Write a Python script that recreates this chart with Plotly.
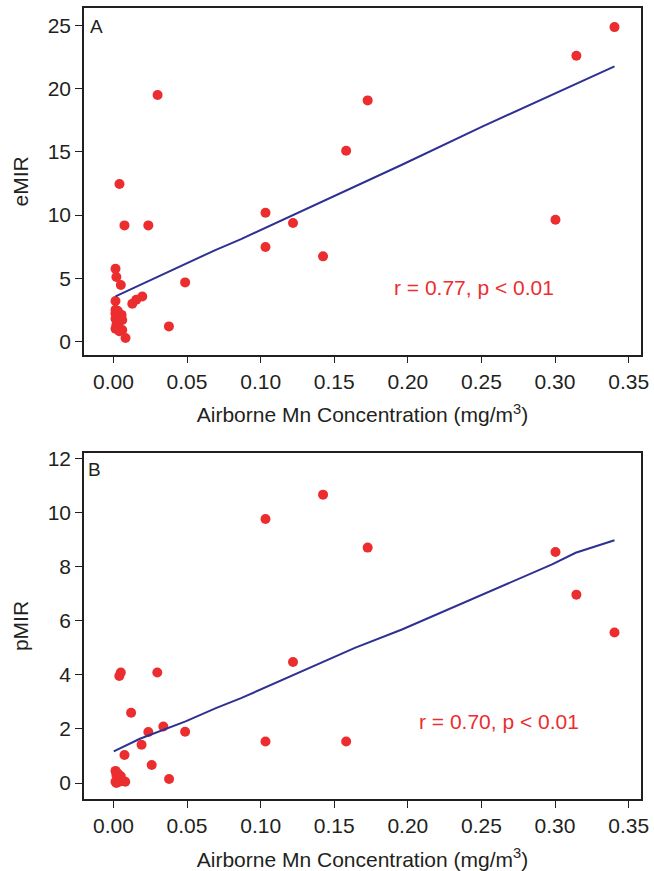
import plotly.graph_objects as go
from plotly.subplots import make_subplots

# ---- Panel A data (eMIR) ----
a_x = [0.3404, 0.3145, 0.3003, 0.1727, 0.1581, 0.1033, 0.1220, 0.1033, 0.1424,
       0.0300, 0.0041, 0.0075, 0.0237, 0.0487, 0.0377, 0.0196, 0.0155, 0.0128,
       0.0014, 0.0020, 0.0050, 0.0014, 0.0082,
       0.0014, 0.0014, 0.0030, 0.0014, 0.0040, 0.0020, 0.0014, 0.0040, 0.0060,
       0.0030, 0.0055, 0.0060]
a_y = [24.87, 22.60, 9.63, 19.07, 15.09, 10.18, 9.37, 7.47, 6.73,
       19.50, 12.45, 9.18, 9.18, 4.67, 1.19, 3.56, 3.30, 2.98,
       5.75, 5.10, 4.46, 3.20, 0.27,
       2.50, 2.20, 2.00, 1.80, 1.60, 1.30, 1.00, 0.80, 0.90,
       2.40, 2.10, 1.70]
a_fit_x = [0.0014, 0.0696, 0.0867, 0.1960, 0.2505, 0.3404]
a_fit_y = [3.56, 7.25, 8.10, 13.98, 17.00, 21.76]

# ---- Panel B data (pMIR) ----
b_x = [0.0040, 0.0050, 0.0120, 0.0075, 0.0191, 0.0237, 0.0339, 0.0487, 0.0260,
       0.0378, 0.0298, 0.1033, 0.1424, 0.1727, 0.1220, 0.1033, 0.1581, 0.3003,
       0.3145, 0.3404,
       0.0014, 0.0020, 0.0030, 0.0014, 0.0040, 0.0060, 0.0080, 0.0050, 0.0020, 0.0030]
b_y = [3.96, 4.09, 2.60, 1.04, 1.42, 1.89, 2.09, 1.90, 0.67,
       0.15, 4.09, 9.77, 10.67, 8.71, 4.48, 1.54, 1.54, 8.55,
       6.97, 5.57,
       0.45, 0.30, 0.15, 0.05, 0.05, 0.10, 0.05, 0.25, 0.00, 0.35]
b_fit_x = [0.0002, 0.018, 0.049, 0.0696, 0.0867, 0.122, 0.164, 0.196, 0.2505,
           0.273, 0.298, 0.314, 0.3404]
b_fit_y = [1.17, 1.64, 2.28, 2.77, 3.14, 4.00, 5.00, 5.68, 6.98,
           7.50, 8.09, 8.52, 8.98]

x_ticks = [0.0, 0.05, 0.10, 0.15, 0.20, 0.25, 0.30, 0.35]
a_ticks = [0, 5, 10, 15, 20, 25]
b_ticks = [0, 2, 4, 6, 8, 10, 12]

RED = "#EC2D2F"
NAVY = "#2E3192"
TXT = "#231F20"
FONT = "Liberation Sans, Arial, sans-serif"
FS = 21

fig = make_subplots(rows=2, cols=1, vertical_spacing=0.1243)

fig.add_trace(go.Scatter(x=a_x, y=a_y, mode="markers",
                         marker=dict(color=RED, size=10, line=dict(width=0)),
                         showlegend=False), row=1, col=1)
fig.add_trace(go.Scatter(x=a_fit_x, y=a_fit_y, mode="lines",
                         line=dict(color=NAVY, width=2), showlegend=False), row=1, col=1)
fig.add_trace(go.Scatter(x=b_x, y=b_y, mode="markers",
                         marker=dict(color=RED, size=10, line=dict(width=0)),
                         showlegend=False), row=2, col=1)
fig.add_trace(go.Scatter(x=b_fit_x, y=b_fit_y, mode="lines",
                         line=dict(color=NAVY, width=2), showlegend=False), row=2, col=1)

axis_common = dict(showline=True, linecolor="#231F20", linewidth=1.5, mirror=True,
                   ticks="outside", ticklen=7, tickwidth=1.2, tickcolor="#231F20",
                   showgrid=False, zeroline=False, automargin=False,
                   tickfont=dict(family=FONT, size=FS, color=TXT))

xtitle = "Airborne Mn Concentration (mg/m<sup>3</sup>)"
for r in (1, 2):
    fig.update_xaxes(range=[-0.020, 0.3584], tickvals=x_ticks,
                     ticktext=[f"{v:.2f}" for v in x_ticks],
                     title=dict(text=xtitle, font=dict(family=FONT, size=FS, color=TXT),
                                standoff=16),
                     row=r, col=1, **axis_common)

fig.update_yaxes(range=[-1.05, 26.38], tickvals=a_ticks,
                 title=dict(text="eMIR", font=dict(family=FONT, size=FS, color=TXT), standoff=13),
                 domain=[0.5617, 1.0], row=1, col=1, **axis_common)
fig.update_yaxes(range=[-0.59, 12.21], tickvals=b_ticks,
                 title=dict(text="pMIR", font=dict(family=FONT, size=FS, color=TXT), standoff=13),
                 domain=[0.0, 0.4374], row=2, col=1, **axis_common)

fig.add_annotation(x=0.245, y=4.25, xref="x", yref="y", text="r = 0.77, p < 0.01",
                   showarrow=False, font=dict(family=FONT, size=FS, color=RED))
fig.add_annotation(x=0.262, y=2.27, xref="x2", yref="y2", text="r = 0.70, p < 0.01",
                   showarrow=False, font=dict(family=FONT, size=FS, color=RED))
fig.add_annotation(x=0.008, y=0.992, xref="paper", yref="paper", text="A",
                   showarrow=False, xanchor="left", yanchor="top",
                   font=dict(family=FONT, size=19, color=TXT))
fig.add_annotation(x=0.004, y=0.432, xref="paper", yref="paper", text="B",
                   showarrow=False, xanchor="left", yanchor="top",
                   font=dict(family=FONT, size=19, color=TXT))

fig.update_layout(width=654, height=871,
                  margin=dict(l=84, r=13.3, t=8.3, b=71.7),
                  paper_bgcolor="white", plot_bgcolor="white",
                  font=dict(family=FONT, color=TXT))

fig.write_html("out.html", config={"displayModeBar": False},
               post_script="document.body.style.margin='0';document.body.style.overflow='hidden';")
